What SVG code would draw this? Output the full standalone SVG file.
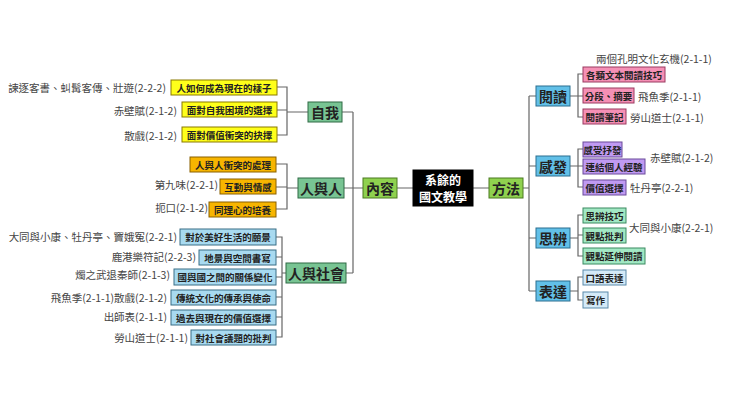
<svg xmlns="http://www.w3.org/2000/svg" width="740" height="416" viewBox="0 0 740 416">
<style>
text{font-family:"Noto Sans CJK TC","Liberation Sans",sans-serif;fill:#222}
.lf{font-size:9.5px;font-weight:bold;text-anchor:middle;dominant-baseline:central}
.md{font-size:14px;font-weight:bold;text-anchor:middle;dominant-baseline:central}
.an{font-size:10.5px;fill:#444;dominant-baseline:central}
.ar{text-anchor:end}
rect{stroke-width:1}
.y{fill:#ffff1a;stroke:#8a7a00}.o{fill:#f7b500;stroke:#8a6000}.b{fill:#a8daf0;stroke:#3a6f86}
.g{fill:#78c493;stroke:#2f6b45}.lg{fill:#8fd14f;stroke:#4a7a20}.c{fill:#62c0e8;stroke:#2a6f90}
.p{fill:#f590b5;stroke:#9a3a60}.v{fill:#c09af2;stroke:#6a4a9a}.m{fill:#a2e8c4;stroke:#3a8a60}.pb{fill:#d4eaf8;stroke:#5a8aaa}
#conn path{fill:none;stroke:#666;stroke-width:1.2}
</style>
<g id="conn">
<path d="M397 188H413M473 188H489M523 188H529M529 96V291M529 96H536M529 166H536M529 238H536M529 291H536"/>
<path d="M363 188H353M353 112V273M342 112H353M344 188H353M346 273H353"/>
<path d="M308 112H287M277 87H287V135H277M277 110H287"/>
<path d="M298 188H287M276 164H287V209H276M276 187H287"/>
<path d="M286 273H282M276 237H282V337H276M276 257H282M276 277H282M276 297H282M276 317H282"/>
<path d="M570 96H578M583 74H578V117H583M578 96H583"/>
<path d="M570 166H578M583 149H578V187H583M578 166H583"/>
<path d="M570 238H578M583 215H578V256H583M578 235H583"/>
<path d="M570 291H578M583 277H578V300H583"/>
</g>
<g id="center"><rect x="413" y="170" width="60" height="36" fill="#000" stroke="#000"/><text x="443" y="179.5" class="md" style="fill:#fff;font-size:12px">系餘的</text><text x="443" y="196.5" class="md" style="fill:#fff;font-size:12px">國文教學</text></g>
<g id="content"><rect class="lg" x="363" y="178" width="34" height="20"/><text x="380" y="188" class="md">內容</text></g>
<g id="method"><rect class="lg" x="489" y="178" width="34" height="20"/><text x="506" y="188" class="md">方法</text></g>
<g id="self"><rect class="g" x="308" y="102" width="34" height="20"/><text x="325" y="112" class="md">自我</text></g>
<g id="pp"><rect class="g" x="298" y="178" width="46" height="20"/><text x="321" y="188" class="md">人與人</text></g>
<g id="ps"><rect class="g" x="286" y="263" width="60" height="20"/><text x="316" y="273" class="md">人與社會</text></g>
<g id="y1"><rect class="y" x="171" y="80" width="106" height="15"/><text x="224" y="87.5" class="lf">人如何成為現在的樣子</text><text x="166" y="87.5" class="an ar">諫逐客書、虯髯客傳、壯遊(2-2-2)</text></g>
<g id="y2"><rect class="y" x="182" y="102" width="95" height="15"/><text x="229.5" y="109.5" class="lf">面對自我困境的選擇</text><text x="177" y="110" class="an ar">赤壁賦(2-1-2)</text></g>
<g id="y3"><rect class="y" x="182" y="127" width="95" height="15"/><text x="229.5" y="134.5" class="lf">面對價值衝突的抉擇</text><text x="177" y="135" class="an ar">散戲(2-1-2)</text></g>
<g id="o1"><rect class="o" x="190" y="157" width="86" height="15"/><text x="233" y="164.5" class="lf">人與人衝突的處理</text></g>
<g id="o2"><rect class="o" x="220" y="179" width="56" height="15"/><text x="248" y="186.5" class="lf">互動與情感</text><text x="218" y="184" class="an ar">第九味(2-2-1)</text></g>
<g id="o3"><rect class="o" x="209" y="202" width="67" height="15"/><text x="242.5" y="209.5" class="lf">同理心的培養</text><text x="208" y="207" class="an ar">扼口(2-1-2)</text></g>
<g id="b1"><rect class="b" x="180" y="229" width="96" height="16"/><text x="228" y="237" class="lf">對於美好生活的願景</text><text x="177" y="236" class="an ar">大同與小康、牡丹亭、竇娥冤(2-2-1)</text></g>
<g id="b2"><rect class="b" x="199" y="250" width="77" height="15"/><text x="237.5" y="257.5" class="lf">地景與空間書寫</text><text x="196" y="256" class="an ar">鹿港樂符記(2-2-3)</text></g>
<g id="b3"><rect class="b" x="174" y="269" width="102" height="16"/><text x="225" y="277" class="lf">國與國之間的關係變化</text><text x="170" y="274" class="an ar">燭之武退秦師(2-1-3)</text></g>
<g id="b4"><rect class="b" x="171" y="290" width="105" height="15"/><text x="223.5" y="297.5" class="lf">傳統文化的傳承與使命</text><text x="167" y="297" class="an ar">飛魚季(2-1-1)散戲(2-1-2)</text></g>
<g id="b5"><rect class="b" x="171" y="310" width="105" height="15"/><text x="223.5" y="317.5" class="lf">過去與現在的價值選擇</text><text x="167" y="316" class="an ar">出師表(2-1-1)</text></g>
<g id="b6"><rect class="b" x="191" y="330" width="85" height="15"/><text x="233.5" y="337.5" class="lf">對社會議題的批判</text><text x="188" y="337" class="an ar">勞山道士(2-1-1)</text></g>
<g id="read"><rect class="c" x="536" y="86" width="34" height="20"/><text x="553" y="96" class="md">閱讀</text></g>
<g id="feel"><rect class="c" x="536" y="156" width="34" height="20"/><text x="553" y="166" class="md">感發</text></g>
<g id="think"><rect class="c" x="536" y="228" width="34" height="20"/><text x="553" y="238" class="md">思辨</text></g>
<g id="express"><rect class="c" x="536" y="281" width="34" height="20"/><text x="553" y="291" class="md">表達</text></g>
<g id="r1"><rect class="p" x="583" y="67" width="82" height="15"/><text x="624" y="74.5" class="lf">各類文本閱讀技巧</text><text x="596" y="58" class="an">兩個孔明文化玄機(2-1-1)</text></g>
<g id="r2"><rect class="p" x="583" y="88" width="51" height="15"/><text x="608.5" y="95.5" class="lf">分段、摘要</text><text x="638" y="96" class="an">飛魚季(2-1-1)</text></g>
<g id="r3"><rect class="p" x="583" y="109" width="43" height="15"/><text x="604.5" y="116.5" class="lf">閱讀筆記</text><text x="630" y="117" class="an">勞山道士(2-1-1)</text></g>
<g id="f1"><rect class="v" x="583" y="142" width="39" height="15"/><text x="602.5" y="149.5" class="lf">感受抒發</text></g>
<g id="f2"><rect class="v" x="583" y="159" width="62" height="15"/><text x="614" y="166.5" class="lf">連結個人經驗</text><text x="650" y="157" class="an">赤壁賦(2-1-2)</text></g>
<g id="f3"><rect class="v" x="583" y="180" width="43" height="15"/><text x="604.5" y="187.5" class="lf">價值選擇</text><text x="630" y="187" class="an">牡丹亭(2-2-1)</text></g>
<g id="t1"><rect class="m" x="583" y="208" width="43" height="15"/><text x="604.5" y="215.5" class="lf">思辨技巧</text></g>
<g id="t2"><rect class="m" x="583" y="228" width="43" height="15"/><text x="604.5" y="235.5" class="lf">觀點批判</text><text x="629" y="227" class="an">大同與小康(2-2-1)</text></g>
<g id="t3"><rect class="m" x="583" y="248" width="62" height="16"/><text x="614" y="256" class="lf">觀點延伸閱讀</text></g>
<g id="e1"><rect class="pb" x="583" y="270" width="43" height="15"/><text x="604.5" y="277.5" class="lf">口語表達</text></g>
<g id="e2"><rect class="pb" x="583" y="292" width="25" height="16"/><text x="595.5" y="300" class="lf">寫作</text></g>
</svg>
